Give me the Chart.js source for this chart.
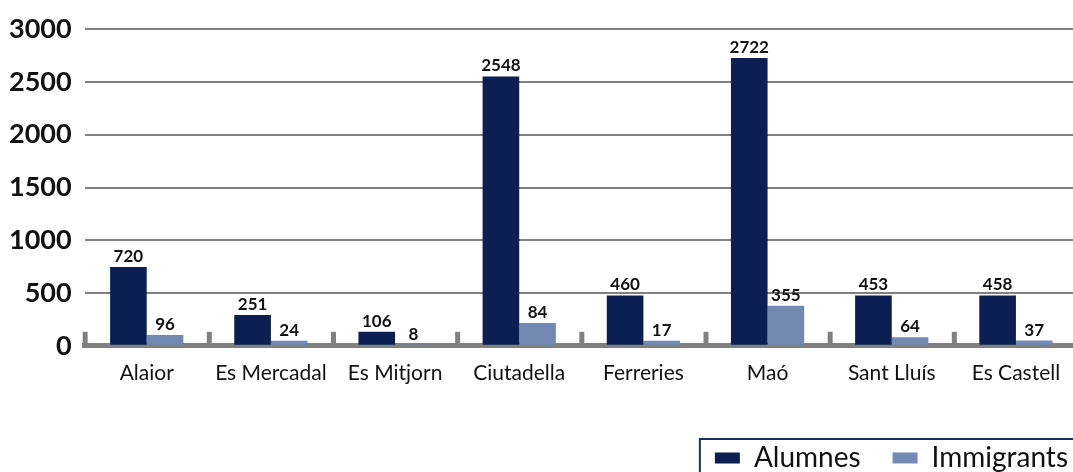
<!DOCTYPE html>
<html>
<head>
<meta charset="utf-8">
<script src="https://cdn.jsdelivr.net/npm/chart.js@4/dist/chart.umd.min.js"></script>
<style>
  html, body { margin: 0; padding: 0; background: #fff; overflow: hidden; }
  #wrap { width: 1080px; height: 482px; }
</style>
</head>
<body>
<div id="wrap"><canvas id="chart"></canvas></div>
<script>
// municipis
var towns = ['Alaior', 'Es Mercadal', 'Es Mitjorn', 'Ciutadella', 'Ferreries', 'Maó', 'Sant Lluís', 'Es Castell'];
// bar heights as drawn in the picture
var alumnes = [746, 292, 132, 2552, 477, 2728, 477, 477];
var immigrants = [103, 47, 8, 216, 47, 379, 82, 50];
// numbers printed above the bars
var alumnesLabels = ['720', '251', '106', '2548', '460', '2722', '453', '458'];
var immigrantsLabels = ['96', '24', '8', '84', '17', '355', '64', '37'];
var yTicks = [0, 500, 1000, 1500, 2000, 2500, 3000];

var navy = '#0b1f52';
var steel = '#7189b3';
var grey = '#808080';

// value labels over each bar
var barLabels = {
  id: 'barLabels',
  afterDatasetsDraw: function(chart) {
    var ctx = chart.ctx;
    var texts = [alumnesLabels, immigrantsLabels];
    ctx.save();
    ctx.font = 'bold 17px Lato';
    ctx.fillStyle = '#111';
    ctx.textAlign = 'center';
    ctx.textBaseline = 'alphabetic';
    chart.data.datasets.forEach(function(ds, d) {
      chart.getDatasetMeta(d).data.forEach(function(bar, i) {
        ctx.fillText(texts[d][i], bar.x, bar.y - 5);
      });
    });
    ctx.restore();
  }
};

// short grey ticks between the categories, pointing up from the axis
var catTicks = {
  id: 'catTicks',
  afterDatasetsDraw: function(chart) {
    var x = chart.scales.x, y = chart.scales.y;
    var ctx = chart.ctx;
    var base = y.getPixelForValue(0);
    ctx.save();
    ctx.fillStyle = grey;
    for (var i = 0; i <= towns.length; i++) {
      var px = x.getPixelForValue(i - 0.5);
      ctx.fillRect(px - 2, base - 14, 5, 14);
    }
    ctx.restore();
  }
};

// push legend a bit to the right and draw its frame
var legendShift = 22;
var legendFrame = {
  id: 'legendFrame',
  afterUpdate: function(chart) {
    chart.legend.left += legendShift;
    chart.legend.right += legendShift;
  },
  afterDraw: function(chart) {
    var lg = chart.legend;
    var pad = lg.options.labels.padding;
    var x0 = lg.right - lg.lineWidths[0];
    var y0 = lg.top + pad;
    var ctx = chart.ctx;
    ctx.save();
    ctx.strokeStyle = '#1c2f5c';
    ctx.lineWidth = 2;
    ctx.strokeRect(x0 - 15, y0 - 5, chart.width, 100);
    ctx.restore();
  }
};

new Chart(document.getElementById('chart'), {
  type: 'bar',
  data: {
    labels: towns,
    datasets: [
      { label: 'Alumnes', data: alumnes, backgroundColor: navy },
      { label: 'Immigrants', data: immigrants, backgroundColor: steel }
    ]
  },
  options: {
    responsive: true,
    maintainAspectRatio: false,
    animation: false,
    layout: { padding: { top: 18, left: 0, right: 2, bottom: 0 } },
    datasets: { bar: { categoryPercentage: 0.59, barPercentage: 1 } },
    plugins: {
      legend: {
        position: 'bottom',
        align: 'end',
        labels: {
          boxWidth: 25,
          boxHeight: 11,
          padding: 32,
          color: '#111',
          font: { family: 'Lato', size: 28 }
        }
      },
      tooltip: { enabled: false }
    },
    scales: {
      x: {
        grid: { display: false },
        border: { color: grey, width: 5 },
        ticks: { color: '#111', padding: 7, font: { family: 'Lato', size: 21 } },
        afterFit: function(scale) { scale.height += 19; }
      },
      y: {
        min: 0,
        max: 3000,
        afterBuildTicks: function(scale) {
          scale.ticks = yTicks.map(function(v) { return { value: v }; });
        },
        afterFit: function(scale) { scale.width -= 4; },
        grid: { color: grey, lineWidth: 2, drawTicks: false },
        border: { display: false },
        ticks: {
          color: '#111',
          padding: 13,
          font: { family: 'Lato', size: 27, weight: 'bold' },
          callback: function(v) { return String(v); }
        }
      }
    }
  },
  plugins: [barLabels, catTicks, legendFrame]
});
</script>
</body>
</html>
